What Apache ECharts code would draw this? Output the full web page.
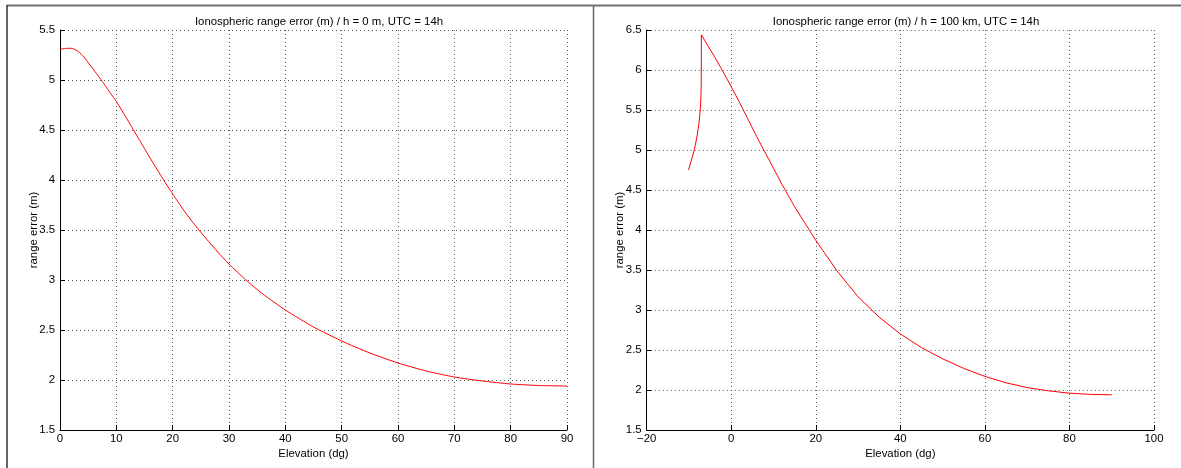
<!DOCTYPE html>
<html>
<head>
<meta charset="utf-8">
<script src="https://cdn.jsdelivr.net/npm/echarts@6/dist/echarts.min.js"></script>
<style>
html,body{margin:0;padding:0;background:#fff;}
#c{width:1181px;height:468px;}
</style>
</head>
<body>
<div id="c"></div>
<script>
// Left panel: h = 0 m
const leftTitle = 'Ionospheric range error (m) / h = 0 m, UTC = 14h';
const leftElev = [0,1,2,3,4,5,6,7,8,9,10,12,14,16,18,20,22,24,26,28,30,33,36,40,45,50,55,60,65,70,75,80,85,90];
const leftErr  = [5.307,5.316,5.317,5.295,5.245,5.175,5.10,5.025,4.945,4.865,4.785,4.60,4.41,4.22,4.035,3.86,3.695,3.545,3.41,3.28,3.16,3.00,2.86,2.70,2.53,2.39,2.27,2.17,2.09,2.03,1.99,1.96,1.945,1.94];
const leftXTicks = {min:0, max:90, interval:10};
const leftYTicks = {min:1.5, max:5.5, interval:0.5};

// Right panel: h = 100 km
const rightTitle = 'Ionospheric range error (m) / h = 100 km, UTC = 14h';
const rightElev = [-10.1,-9.5,-9,-8.5,-8,-7.6,-7.3,-7.15,-7.1,-7.06,-6,-4,-2,0,2,4,6,8,10,12,15,20,25,30,35,40,45,50,55,60,65,70,75,80,85,90];
const rightErr  = [4.75,4.86,4.95,5.06,5.20,5.35,5.52,5.70,5.85,6.44,6.345,6.17,5.985,5.79,5.59,5.38,5.17,4.97,4.77,4.57,4.29,3.87,3.49,3.165,2.91,2.70,2.53,2.39,2.27,2.17,2.09,2.03,1.99,1.96,1.945,1.94];
const rightXTicks = {min:-20, max:100, interval:20};
const rightYTicks = {min:1.5, max:6.5, interval:0.5};

const xName = 'Elevation (dg)';
const yName = 'range error (m)';

const FONT = '"Liberation Sans", Arial, Helvetica, sans-serif';
const txt = {color:'#000', fontFamily:FONT, fontSize:11.4};

function fmtNum(v){ return String(v).replace('-', '\u2212'); }

function xAxis(idx, t){
  return {
    gridIndex: idx, type:'value', min:t.min, max:t.max, interval:t.interval,
    name: xName, nameLocation:'middle', nameGap:18, nameMoveOverlap:false, nameTextStyle: txt,
    axisLine:{show:true, onZero:false, lineStyle:{color:'#000', width:1}},
    axisTick:{show:true, inside:true, length:5, lineStyle:{color:'#000'}},
    axisLabel:{...txt, margin:3, formatter: fmtNum},
    splitLine:{show:true, lineStyle:{type:[1,3], color:'#555', width:1}}
  };
}
function yAxis(idx, t){
  return {
    gridIndex: idx, type:'value', min:t.min, max:t.max, interval:t.interval,
    name: yName, nameLocation:'middle', nameGap:21, nameMoveOverlap:false, nameTextStyle: txt,
    axisLine:{show:true, onZero:false, lineStyle:{color:'#000', width:1}},
    axisTick:{show:true, inside:true, length:5, lineStyle:{color:'#000'}},
    axisLabel:{...txt, margin:5, formatter: fmtNum},
    splitLine:{show:true, lineStyle:{type:[1,3], color:'#555', width:1}}
  };
}
function pairs(xs, ys){ return xs.map((x,i)=>[x, ys[i]]); }

const chart = echarts.init(document.getElementById('c'), null, {renderer:'canvas'});
chart.setOption({
  animation:false,
  backgroundColor:'#fff',
  title:[
    {text:leftTitle, left:314, top:11, textAlign:'center', textStyle:{...txt, fontWeight:'normal'}},
    {text:rightTitle, left:901, top:11, textAlign:'center', textStyle:{...txt, fontWeight:'normal'}}
  ],
  grid:[
    {left:60, top:30, width:507, height:400},
    {left:646.7, top:30, width:507.3, height:400}
  ],
  xAxis:[xAxis(0,leftXTicks), xAxis(1,rightXTicks)],
  yAxis:[yAxis(0,leftYTicks), yAxis(1,rightYTicks)],
  series:[
    {type:'line', xAxisIndex:0, yAxisIndex:0, data:pairs(leftElev,leftErr), showSymbol:false, smooth:0.2,
     lineStyle:{color:'#ff0000', width:1}},
    {type:'line', xAxisIndex:1, yAxisIndex:1, data:pairs(rightElev,rightErr), showSymbol:false, smooth:false,
     lineStyle:{color:'#ff0000', width:1}}
  ],
  graphic:[
    {type:'line', shape:{x1:7, y1:5.5, x2:1181, y2:5.5}, style:{stroke:'#707070', lineWidth:2}},
    {type:'line', shape:{x1:7, y1:5, x2:7, y2:468}, style:{stroke:'#333', lineWidth:1.5}},
    {type:'line', shape:{x1:593.5, y1:5, x2:593.5, y2:468}, style:{stroke:'#666', lineWidth:1.5}}
  ]
});
</script>
</body>
</html>
